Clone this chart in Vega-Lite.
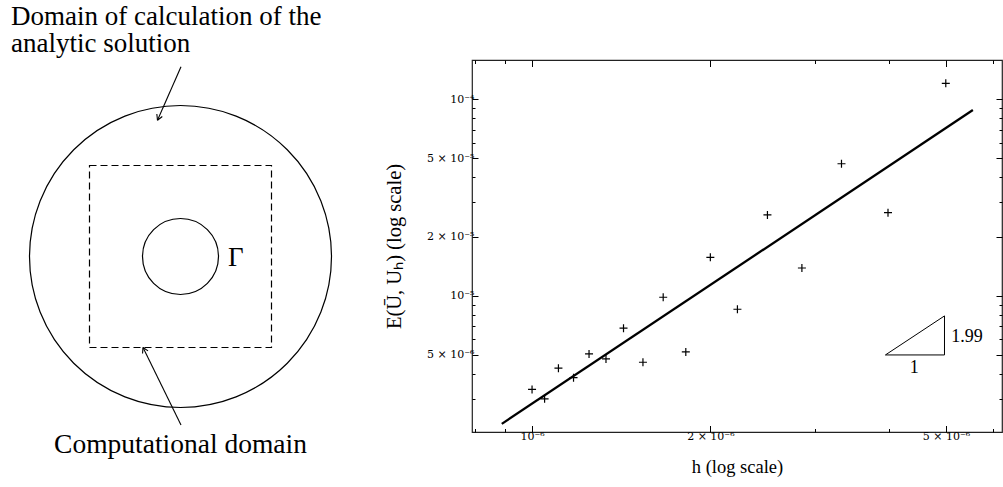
{
  "$schema": "https://vega.github.io/schema/vega-lite/v6.json",
  "width": 530,
  "height": 372,
  "padding": {"left": 472, "top": 60, "right": 1, "bottom": 55},
  "autosize": {"type": "none"},
  "background": "white",
  "config": {
    "view": {"stroke": "#222", "strokeWidth": 1.2},
    "font": "Liberation Serif",
    "axis": {
      "domain": false,
      "grid": false,
      "tickColor": "black",
      "tickWidth": 1,
      "labelColor": "black",
      "labelFont": "DejaVu Serif",
      "labelFontSize": 11,
      "titleFont": "Liberation Serif",
      "titleFontSize": 18.5,
      "titleFontWeight": "normal",
      "titleColor": "black",
      "labelOverlap": false
    }
  },
  "layer": [
    {
      "encoding": {
        "x": {"field": "dx", "type": "quantitative", "scale": {"domain": [-2, 2], "range": [-473.5, -109.5], "nice": false, "zero": false}, "axis": null},
        "y": {"field": "dy", "type": "quantitative", "scale": {"domain": [-2, 2], "range": [378.5, 14.5], "nice": false, "zero": false}, "axis": null}
      },
      "layer": [
        {
          "data": {"values": [{"dx": 0, "dy": 0}]},
          "mark": {"type": "point", "shape": "circle", "size": 91204, "filled": false, "stroke": "black", "strokeWidth": 1.2, "opacity": 1}
        },
        {
          "data": {"values": [{"dx": 0, "dy": 0}]},
          "mark": {"type": "point", "shape": "circle", "size": 5776, "filled": false, "stroke": "black", "strokeWidth": 1.2, "opacity": 1}
        },
        {
          "data": {"values": [{"dx": -1, "dy": -1, "dx2": 1, "dy2": 1}]},
          "mark": {"type": "rect", "fill": null, "fillOpacity": 0, "stroke": "black", "strokeWidth": 1.2, "strokeDash": [7, 4]},
          "encoding": {"x2": {"field": "dx2"}, "y2": {"field": "dy2"}}
        },
        {
          "data": {"values": [
            {"dx": 0.0055, "dy": 2.085, "dx2": -0.253, "dy2": 1.497},
            {"dx": -0.253, "dy": 1.497, "dx2": -0.2, "dy2": 1.538},
            {"dx": -0.253, "dy": 1.497, "dx2": -0.26, "dy2": 1.566},
            {"dx": 0.0055, "dy": -1.852, "dx2": -0.412, "dy2": -1.0},
            {"dx": -0.412, "dy": -1.0, "dx2": -0.417, "dy2": -1.066},
            {"dx": -0.412, "dy": -1.0, "dx2": -0.357, "dy2": -1.037}
          ]},
          "mark": {"type": "rule", "color": "black", "strokeWidth": 1.1},
          "encoding": {"x2": {"field": "dx2"}, "y2": {"field": "dy2"}}
        },
        {
          "data": {"values": [
            {"dx": -1.8626, "dy": 2.544, "label": "Domain of calculation of the\nanalytic solution"},
            {"dx": 0.522, "dy": -0.104, "label": "Γ"}
          ]},
          "mark": {"type": "text", "align": "left", "baseline": "alphabetic", "font": "Liberation Serif", "fontSize": 27, "lineBreak": "\n", "lineHeight": 27.5, "color": "black"},
          "encoding": {"text": {"field": "label"}}
        },
        {
          "data": {"values": [{"dx": 0, "dy": -2.156, "label": "Computational domain"}]},
          "mark": {"type": "text", "align": "center", "baseline": "alphabetic", "font": "Liberation Serif", "fontSize": 27.5, "color": "black"},
          "encoding": {"text": {"field": "label"}}
        }
      ]
    },
    {
      "layer": [
        {
          "data": {"values": [
            {"h": 1.0e-6, "E": 3.34e-6},
            {"h": 1.05e-6, "E": 2.99e-6},
            {"h": 1.108e-6, "E": 4.28e-6},
            {"h": 1.175e-6, "E": 3.83e-6},
            {"h": 1.248e-6, "E": 5.06e-6},
            {"h": 1.333e-6, "E": 4.77e-6},
            {"h": 1.427e-6, "E": 6.84e-6},
            {"h": 1.539e-6, "E": 4.59e-6},
            {"h": 1.665e-6, "E": 9.83e-6},
            {"h": 1.818e-6, "E": 5.18e-6},
            {"h": 2.0e-6, "E": 1.57e-5},
            {"h": 2.222e-6, "E": 8.54e-6},
            {"h": 2.497e-6, "E": 2.58e-5},
            {"h": 2.855e-6, "E": 1.385e-5},
            {"h": 3.33e-6, "E": 4.70e-5},
            {"h": 3.99e-6, "E": 2.65e-5},
            {"h": 4.995e-6, "E": 1.206e-4}
          ]},
          "mark": {"type": "point", "shape": "M-1,0H1M0,-1V1", "size": 64, "filled": false, "stroke": "black", "strokeWidth": 1.2, "opacity": 1},
          "encoding": {
            "x": {"field": "h", "type": "quantitative", "scale": {"type": "log", "domain": [7.918e-7, 6.215e-6], "nice": false},
              "axis": {"orient": "bottom", "values": [1e-6, 2e-6, 5e-6], "tickSize": -6.5, "labelPadding": 5,
                "labelExpr": "datum.value < 1.5e-6 ? '10⁻⁶' : (datum.value < 3e-6 ? '2 × 10⁻⁶' : '5 × 10⁻⁶')",
                "title": "h (log scale)", "titlePadding": 16}},
            "y": {"field": "E", "type": "quantitative", "scale": {"type": "log", "domain": [2.027e-6, 1.585e-4], "nice": false},
              "axis": {"orient": "left", "values": [5e-6, 1e-5, 2e-5, 5e-5, 1e-4], "tickSize": -6, "labelPadding": 4,
                "labelExpr": "datum.value > 7e-5 ? '10⁻⁴' : (datum.value > 3e-5 ? '5 × 10⁻⁵' : (datum.value > 1.5e-5 ? '2 × 10⁻⁵' : (datum.value > 7e-6 ? '10⁻⁵' : '5 × 10⁻⁶')))",
                "title": "E(Ū, Uₕ) (log scale)", "titleFontSize": 20.5, "titlePadding": 22}}
          }
        },
        {
          "data": {"values": [
            {"h": 8.89e-7, "E": 2.23e-6},
            {"h": 5.55e-6, "E": 8.82e-5}
          ]},
          "mark": {"type": "line", "color": "black", "strokeWidth": 2.3},
          "encoding": {
            "x": {"field": "h", "type": "quantitative", "scale": {"type": "log", "domain": [7.918e-7, 6.215e-6], "nice": false},
              "axis": {"orient": "bottom", "values": [8e-7, 9e-7, 3e-6, 4e-6, 6e-6], "tickSize": -3.5, "labels": false, "title": null}},
            "y": {"field": "E", "type": "quantitative", "scale": {"type": "log", "domain": [2.027e-6, 1.585e-4], "nice": false},
              "axis": {"orient": "left", "values": [3e-6, 4e-6, 6e-6, 7e-6, 8e-6, 9e-6, 3e-5, 4e-5, 6e-5, 7e-5, 8e-5, 9e-5], "tickSize": -3, "labels": false, "title": null}}
          }
        },
        {
          "data": {"values": [
            {"h": 3.95e-6, "E": 5.0e-6, "h2": 4.97e-6, "E2": 5.0e-6},
            {"h": 4.97e-6, "E": 5.0e-6, "h2": 4.97e-6, "E2": 7.9e-6},
            {"h": 3.95e-6, "E": 5.0e-6, "h2": 4.97e-6, "E2": 7.9e-6}
          ]},
          "mark": {"type": "rule", "color": "black", "strokeWidth": 1},
          "encoding": {
            "x": {"field": "h", "type": "quantitative", "scale": {"type": "log", "domain": [7.918e-7, 6.215e-6], "nice": false},
              "axis": {"orient": "top", "values": [1e-6, 2e-6, 5e-6], "tickSize": -6.5, "labels": false, "title": null}},
            "y": {"field": "E", "type": "quantitative", "scale": {"type": "log", "domain": [2.027e-6, 1.585e-4], "nice": false},
              "axis": {"orient": "right", "values": [5e-6, 1e-5, 2e-5, 5e-5, 1e-4], "tickSize": -6, "labels": false, "title": null}},
            "x2": {"field": "h2"},
            "y2": {"field": "E2"}
          }
        },
        {
          "data": {"values": [{"h": 5.10e-6, "E": 5.84e-6, "label": "1.99"}]},
          "mark": {"type": "text", "align": "left", "baseline": "alphabetic", "font": "Liberation Serif", "fontSize": 18, "color": "black"},
          "encoding": {
            "x": {"field": "h", "type": "quantitative", "scale": {"type": "log", "domain": [7.918e-7, 6.215e-6], "nice": false},
              "axis": {"orient": "top", "values": [8e-7, 9e-7, 3e-6, 4e-6, 6e-6], "tickSize": -3.5, "labels": false, "title": null}},
            "y": {"field": "E", "type": "quantitative", "scale": {"type": "log", "domain": [2.027e-6, 1.585e-4], "nice": false},
              "axis": {"orient": "right", "values": [3e-6, 4e-6, 6e-6, 7e-6, 8e-6, 9e-6, 3e-5, 4e-5, 6e-5, 7e-5, 8e-5, 9e-5], "tickSize": -3, "labels": false, "title": null}},
            "text": {"field": "label"}
          }
        },
        {
          "data": {"values": [{"h": 4.42e-6, "E": 4.06e-6, "label": "1"}]},
          "mark": {"type": "text", "align": "center", "baseline": "alphabetic", "font": "Liberation Serif", "fontSize": 18, "color": "black"},
          "encoding": {
            "x": {"field": "h", "type": "quantitative", "scale": {"type": "log", "domain": [7.918e-7, 6.215e-6], "nice": false}, "axis": null},
            "y": {"field": "E", "type": "quantitative", "scale": {"type": "log", "domain": [2.027e-6, 1.585e-4], "nice": false}, "axis": null},
            "text": {"field": "label"}
          }
        }
      ],
      "resolve": {"axis": {"x": "independent", "y": "independent"}}
    }
  ],
  "resolve": {"scale": {"x": "independent", "y": "independent"}}
}
